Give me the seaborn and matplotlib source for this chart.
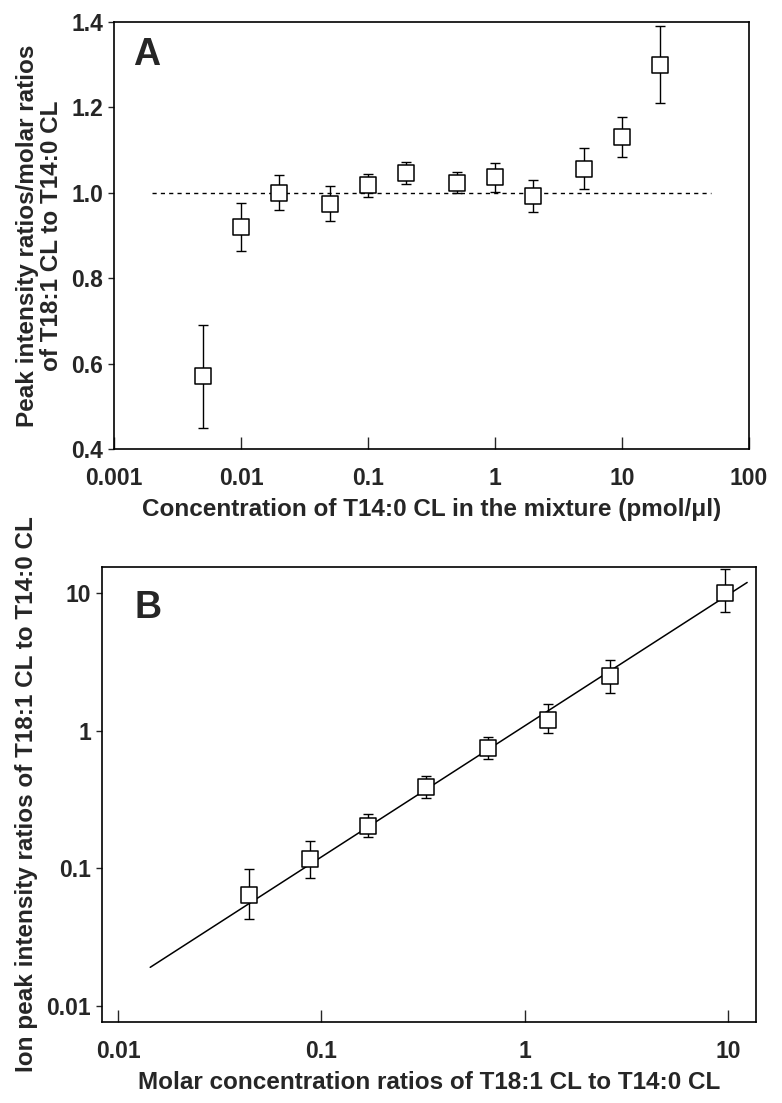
import matplotlib
matplotlib.use("Agg")
import matplotlib.pyplot as plt
import seaborn as sns
import pandas as pd
import numpy as np

# panel A: ratio of ratios vs concentration of T14:0 CL
conc_a = [0.005, 0.01, 0.02, 0.05, 0.1, 0.2, 0.5, 1, 2, 5, 10, 20]
ratio_a = [0.57, 0.92, 1.00, 0.975, 1.018, 1.047, 1.024, 1.036, 0.993, 1.056, 1.131, 1.30]
err_a = [0.12, 0.056, 0.041, 0.04, 0.027, 0.026, 0.025, 0.034, 0.037, 0.048, 0.047, 0.09]
ref_x = [0.002, 50]
ref_y = [1.0, 1.0]

# panel B: ion peak intensity ratio vs molar ratio
molar_b = [0.044, 0.088, 0.169, 0.326, 0.656, 1.30, 2.63, 9.6]
ion_b = [0.064, 0.116, 0.204, 0.39, 0.744, 1.20, 2.49, 10.0]
ion_lo = [0.0426, 0.0853, 0.169, 0.322, 0.622, 0.957, 1.87, 7.28]
ion_hi = [0.099, 0.159, 0.249, 0.47, 0.90, 1.556, 3.27, 14.8]
fit_x = [0.0144, 12.4]
fit_y = [0.0191, 11.9]

xt_a = [0.001, 0.01, 0.1, 1, 10, 100]
xt_a_lab = ["0.001", "0.01", "0.1", "1", "10", "100"]
yt_a = [0.4, 0.6, 0.8, 1.0, 1.2, 1.4]
t_b = [0.01, 0.1, 1, 10]
t_b_lab = ["0.01", "0.1", "1", "10"]

sns.set_style("ticks")
plt.rcParams["font.family"] = ["Liberation Sans", "DejaVu Sans"]
plt.rcParams["font.weight"] = "bold"
plt.rcParams["axes.linewidth"] = 1.2

TICK_FS = 16.5
LAB_FS = 17.5

df_a = pd.DataFrame({"conc": conc_a, "ratio": ratio_a, "err": err_a})
df_b = pd.DataFrame({"molar": molar_b, "ion": ion_b, "lo": ion_lo, "hi": ion_hi})

fig = plt.figure(figsize=(7.82, 11.03), dpi=100)
ax1 = fig.add_axes([0.1458, 0.5929, 0.812, 0.3871])
ax2 = fig.add_axes([0.1304, 0.0734, 0.8363, 0.4125])

# ---- panel A
ax1.errorbar(df_a["conc"], df_a["ratio"], yerr=df_a["err"], fmt="none",
             ecolor="black", elinewidth=1.0, capsize=3.5, capthick=1.0, zorder=2)
sns.scatterplot(data=df_a, x="conc", y="ratio", marker="s", s=120,
                facecolor="white", edgecolor="black", linewidth=1.1, ax=ax1, zorder=3)
ax1.plot(ref_x, ref_y, color="black", linestyle=(0, (3, 3)), linewidth=1.0, zorder=1)
ax1.set_xscale("log")
ax1.set_xlim(0.001, 100)
ax1.set_ylim(0.4, 1.4)
ax1.set_xticks(xt_a)
ax1.set_xticklabels(xt_a_lab)
ax1.minorticks_off()
ax1.set_yticks(yt_a)
ax1.set_yticklabels(["%.1f" % v for v in yt_a])
ax1.tick_params(axis="x", direction="in", length=9, width=1.0, labelsize=TICK_FS, pad=13)
ax1.tick_params(axis="y", direction="out", length=4, width=1.0, labelsize=TICK_FS, pad=4)
ax1.set_xlabel("Concentration of T14:0 CL in the mixture (pmol/μl)", fontsize=LAB_FS,
               fontweight="bold", labelpad=6)
ax1.set_ylabel("Peak intensity ratios/molar ratios\nof T18:1 CL to T14:0 CL", fontsize=LAB_FS,
               fontweight="bold", labelpad=6, linespacing=1.05)
ax1.text(0.03, 0.965, "A", transform=ax1.transAxes, fontsize=27, fontweight="bold",
         va="top", ha="left")
for sp in ax1.spines.values():
    sp.set_visible(True)
    sp.set_color("black")

# ---- panel B
yerr_b = [np.subtract(df_b["ion"], df_b["lo"]), np.subtract(df_b["hi"], df_b["ion"])]
ax2.errorbar(df_b["molar"], df_b["ion"], yerr=yerr_b, fmt="none",
             ecolor="black", elinewidth=1.0, capsize=3.5, capthick=1.0, zorder=2)
sns.lineplot(x=fit_x, y=fit_y, color="black", linewidth=1.1, ax=ax2, zorder=1)
sns.scatterplot(data=df_b, x="molar", y="ion", marker="s", s=120,
                facecolor="white", edgecolor="black", linewidth=1.1, ax=ax2, zorder=3)
ax2.set_xscale("log")
ax2.set_yscale("log")
ax2.set_xlim(0.00834, 13.7)
ax2.set_ylim(0.00765, 15.4)
ax2.set_xticks(t_b)
ax2.set_xticklabels(t_b_lab)
ax2.set_yticks(t_b)
ax2.set_yticklabels(t_b_lab)
ax2.minorticks_off()
ax2.tick_params(axis="x", direction="in", length=9, width=1.0, labelsize=TICK_FS, pad=13)
ax2.tick_params(axis="y", direction="out", length=4, width=1.0, labelsize=TICK_FS, pad=4)
ax2.set_xlabel("Molar concentration ratios of T18:1 CL to T14:0 CL", fontsize=LAB_FS,
               fontweight="bold", labelpad=6)
ax2.set_ylabel("Ion peak intensity ratios of T18:1 CL to T14:0 CL", fontsize=LAB_FS,
               fontweight="bold", labelpad=6)
ax2.text(0.05, 0.95, "B", transform=ax2.transAxes, fontsize=27, fontweight="bold",
         va="top", ha="left")
for sp in ax2.spines.values():
    sp.set_visible(True)
    sp.set_color("black")

fig.savefig("out.png", dpi=100)
